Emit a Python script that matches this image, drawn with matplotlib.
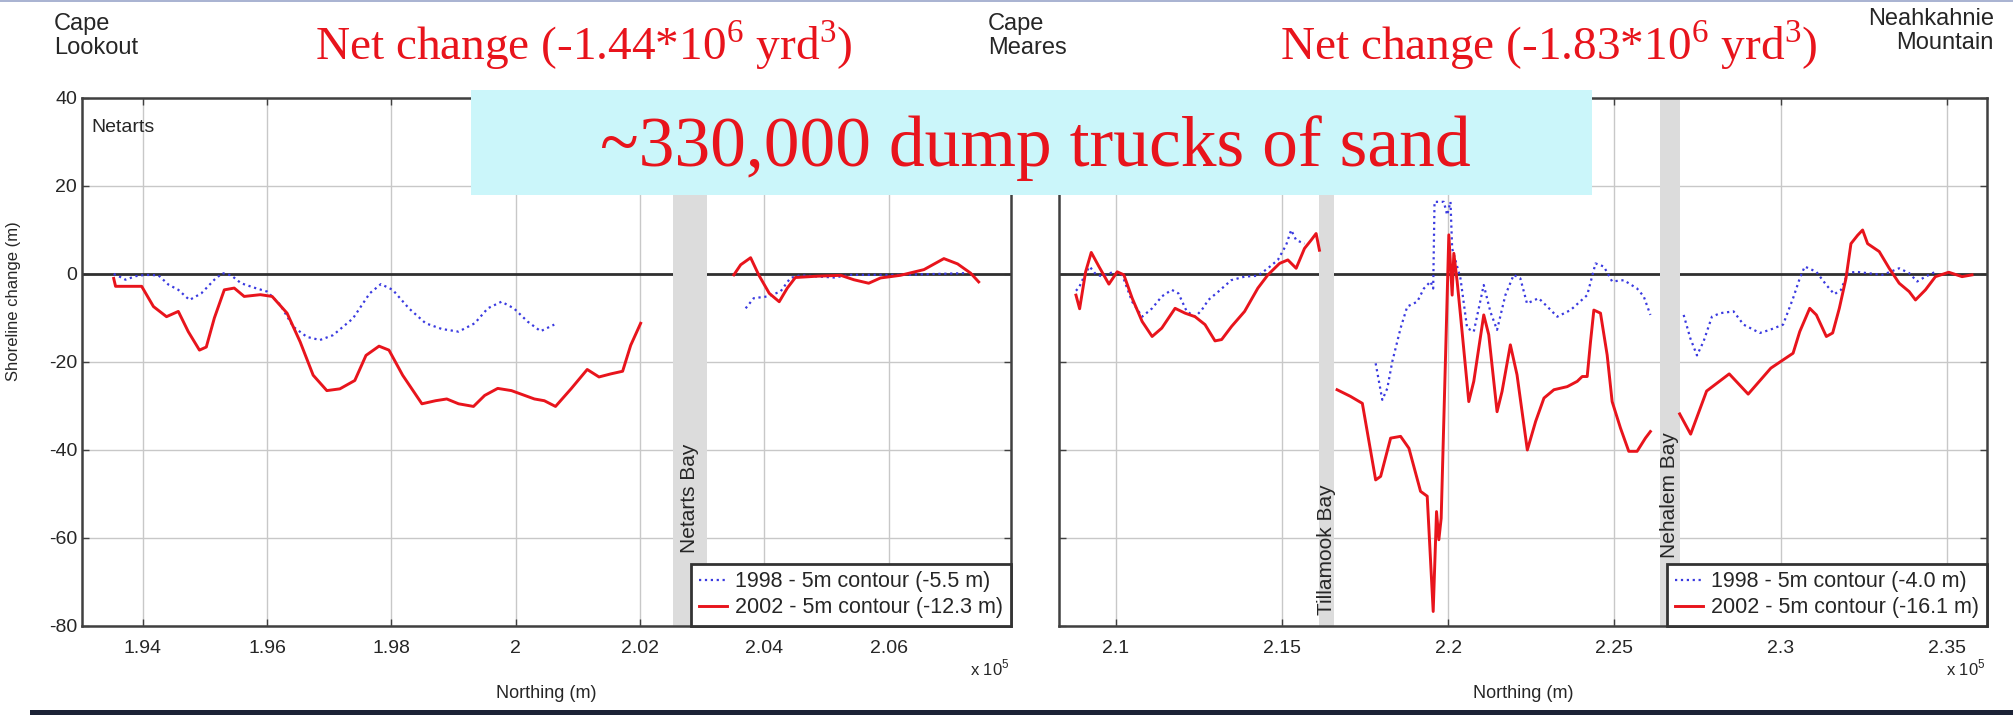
import matplotlib
matplotlib.use("Agg")
import matplotlib.pyplot as plt
from matplotlib.patches import Rectangle

plt.rcParams['font.family'] = ['Liberation Sans', 'DejaVu Sans']
plt.rcParams['mathtext.fontset'] = 'custom'
plt.rcParams['mathtext.rm'] = 'Liberation Serif'
plt.rcParams['mathtext.sf'] = 'Liberation Sans'
plt.rcParams['axes.unicode_minus'] = False

# Northing in units of 1e5 m, shoreline change in m
# --- Netarts cell (Cape Lookout -> Cape Meares) ---
n98_a = [1.9353, 1.9361, 1.9372, 1.9388, 1.9404, 1.9425, 1.9441, 1.9457, 1.9475,
         1.9494, 1.9515, 1.9528, 1.9542, 1.9558, 1.9579, 1.9600, 1.9621, 1.9642,
         1.9664, 1.9685, 1.9706, 1.9738, 1.9765, 1.9783, 1.9802, 1.9828, 1.9855,
         1.9881, 1.9908, 1.9934, 1.9955, 1.9977, 1.9997, 2.0019, 2.0040, 2.0062]
s98_a = [0.0, -0.5, -1.3, -0.5, -0.2, -0.3, -2.4, -3.6, -5.9, -4.4, -1.3, 0.2,
         -0.3, -2.1, -3.1, -4.0, -7.0, -12.0, -14.3, -15.0, -13.9, -10.1, -4.4,
         -2.3, -3.6, -7.8, -11.2, -12.5, -13.1, -11.2, -7.8, -6.3, -7.8, -10.8,
         -13.0, -11.5]
n02_a = [1.9353, 1.9356, 1.9398, 1.9417, 1.9438, 1.9457, 1.9473, 1.9491, 1.9502,
         1.9515, 1.9531, 1.9547, 1.9563, 1.9589, 1.9608, 1.9632, 1.9653, 1.9674,
         1.9696, 1.9717, 1.9741, 1.9759, 1.9780, 1.9796, 1.9818, 1.9849, 1.9871,
         1.9889, 1.9908, 1.9932, 1.9950, 1.9971, 1.9993, 2.0030, 2.0046, 2.0064,
         2.0089, 2.0115, 2.0134, 2.0153, 2.0172, 2.0185, 2.0201]
s02_a = [-1.0, -2.8, -2.8, -7.4, -9.7, -8.5, -13.1, -17.3, -16.6, -10.0, -3.6,
         -3.2, -5.1, -4.7, -5.1, -8.9, -15.4, -23.0, -26.5, -26.1, -24.2, -18.5,
         -16.4, -17.3, -23.0, -29.5, -28.8, -28.4, -29.5, -30.1, -27.6, -26.0,
         -26.5, -28.4, -28.8, -30.1, -26.1, -21.7, -23.4, -22.7, -22.1, -16.2,
         -11.2]
n98_b = [2.0370, 2.0383, 2.0405, 2.0426, 2.0442, 2.0458, 2.0512, 2.0539, 2.0619,
         2.0673, 2.0727]
s98_b = [-7.8, -5.5, -5.1, -4.0, -0.9, -0.3, -0.8, -0.2, -0.2, 0.0, 0.2]
n02_b = [2.0351, 2.0362, 2.0378, 2.0391, 2.0408, 2.0424, 2.0437, 2.0450, 2.0485,
         2.0523, 2.0544, 2.0568, 2.0587, 2.0619, 2.0657, 2.0689, 2.0711, 2.0732,
         2.0745]
s02_b = [-0.2, 2.1, 3.7, -0.2, -4.4, -6.3, -3.2, -0.8, -0.5, -0.3, -1.3, -2.1,
         -0.9, -0.3, 1.0, 3.5, 2.3, 0.2, -1.8]

# --- Rockaway / Nehalem cells (Cape Meares -> Neahkahnie Mountain) ---
n98_c = [2.0881, 2.0890, 2.0910, 2.0922, 2.0940, 2.0960, 2.0990, 2.1020, 2.1050,
         2.1080, 2.1110, 2.1139, 2.1169, 2.1189, 2.1214, 2.1240, 2.1259, 2.1279,
         2.1309, 2.1348, 2.1388, 2.1428, 2.1458, 2.1488, 2.1513, 2.1528, 2.1543,
         2.1568]
s98_c = [-3.8, -3.1, 0.2, 1.7, 0.0, -0.6, 0.4, -0.2, -6.3, -9.7, -7.8, -5.1,
         -3.6, -4.4, -8.5, -9.7, -8.2, -5.9, -4.0, -1.4, -0.6, -0.4, 1.3, 3.2,
         6.6, 10.0, 7.7, 6.9]
n02_c = [2.0881, 2.0892, 2.0910, 2.0927, 2.0950, 2.0980, 2.1005, 2.1025, 2.1050,
         2.1080, 2.1110, 2.1139, 2.1179, 2.1209, 2.1239, 2.1269, 2.1299, 2.1319,
         2.1349, 2.1388, 2.1428, 2.1458, 2.1493, 2.1518, 2.1543, 2.1568, 2.1588,
         2.1603, 2.1613]
s02_c = [-4.8, -7.9, 0.5, 4.9, 1.7, -2.3, 0.5, -0.2, -5.5, -10.8, -14.2, -12.3,
         -7.8, -8.9, -9.7, -11.5, -15.2, -14.9, -11.9, -8.5, -3.2, -0.2, 2.4, 3.2,
         1.3, 5.8, 7.7, 9.2, 5.4]
n98_d = [2.1782, 2.1802, 2.1817, 2.1832, 2.1857, 2.1877, 2.1907, 2.1927, 2.1947,
         2.1955, 2.1959, 2.1987, 2.1997, 2.2007, 2.2012, 2.2037, 2.2057, 2.2077,
         2.2107, 2.2127, 2.2147, 2.2172, 2.2197, 2.2217, 2.2237, 2.2272, 2.2298,
         2.2328, 2.2368, 2.2418, 2.2443, 2.2468, 2.2493, 2.2528, 2.2568, 2.2588,
         2.2608]
s98_d = [-20.3, -28.6, -26.0, -19.9, -12.3, -7.4, -6.3, -3.3, -1.7, -3.3, 16.4,
         16.4, 13.4, 16.4, 5.8, -1.0, -12.3, -13.1, -2.5, -8.6, -12.7, -4.8, -0.2,
         -1.0, -6.7, -5.5, -7.4, -9.7, -8.2, -4.8, 2.4, 1.7, -1.7, -1.4, -3.3,
         -5.1, -9.3]
n02_d = [2.1666, 2.1706, 2.1742, 2.1762, 2.1782, 2.1797, 2.1827, 2.1857, 2.1882,
         2.1917, 2.1937, 2.1955, 2.1965, 2.1972, 2.1979, 2.1989, 2.2002, 2.2012,
         2.2017, 2.2027, 2.2037, 2.2062, 2.2077, 2.2107, 2.2122, 2.2147, 2.2162,
         2.2187, 2.2207, 2.2238, 2.2263, 2.2288, 2.2318, 2.2358, 2.2388, 2.2403,
         2.2418, 2.2428, 2.2438, 2.2458, 2.2478, 2.2493, 2.2518, 2.2543, 2.2568,
         2.2593, 2.2608]
s02_d = [-26.3, -27.8, -29.4, -38.1, -46.8, -46.0, -37.3, -36.9, -39.6, -49.4,
         -50.5, -76.7, -54.0, -60.4, -55.5, -27.5, 8.9, -4.8, 4.7, -1.7, -9.3,
         -29.0, -24.4, -9.3, -13.8, -31.3, -26.7, -16.1, -22.9, -40.0, -33.5,
         -28.2, -26.3, -25.6, -24.4, -23.3, -23.3, -15.4, -8.2, -8.9, -18.4,
         -29.0, -35.0, -40.3, -40.3, -37.3, -35.8]
n98_e = [2.2708, 2.2728, 2.2748, 2.2768, 2.2793, 2.2818, 2.2858, 2.2888, 2.2937,
         2.2967, 2.3007, 2.3037, 2.3057, 2.3072, 2.3107, 2.3137, 2.3161, 2.3181,
         2.3201, 2.3226, 2.3306, 2.3356, 2.3386, 2.3410, 2.3435, 2.3465]
s98_e = [-9.3, -14.6, -18.5, -15.3, -9.7, -8.9, -8.5, -11.5, -13.4, -12.7, -11.5,
         -5.5, -1.0, 1.7, 0.5, -2.5, -4.6, -3.6, 0.2, 0.5, -0.2, 1.3, 0.2, -1.7,
         -0.6, 0.5]
n02_e = [2.2696, 2.2729, 2.2777, 2.2845, 2.2902, 2.2970, 2.3037, 2.3057, 2.3087,
         2.3107, 2.3137, 2.3156, 2.3176, 2.3196, 2.3211, 2.3231, 2.3246, 2.3261,
         2.3296, 2.3326, 2.3356, 2.3386, 2.3405, 2.3435, 2.3465, 2.3505, 2.3545,
         2.3575]
s02_e = [-31.8, -36.4, -26.6, -22.7, -27.3, -21.4, -18.0, -13.1, -7.8, -9.3,
         -14.2, -13.4, -7.8, -1.0, 6.9, 8.8, 10.0, 6.9, 5.1, 1.3, -2.1, -4.0,
         -5.9, -3.6, -0.6, 0.4, -0.6, -0.2]

# inlets (northing range of the grey bands) and their label base
bays = ['Netarts Bay', 'Tillamook Bay', 'Nehalem Bay']
bay_lo = [2.0253, 2.1611, 2.2636]
bay_hi = [2.0307, 2.1656, 2.2696]
bay_label_y = [-63.5, -77.5, -64.5]

legend_left = ['1998 - 5m contour (-5.5 m)', '2002 - 5m contour (-12.3 m)']
legend_right = ['1998 - 5m contour (-4.0 m)', '2002 - 5m contour (-16.1 m)']
title_left = 'Net change (-1.44*10$^{6}$ yrd$^{3}$)'
title_right = 'Net change (-1.83*10$^{6}$ yrd$^{3}$)'
callout = '~330,000 dump trucks of sand'

W, H = 2013, 715
RED = '#e8141c'
BLUE = '#3a3ae0'
TXT = '#262626'


def fx(x):
    return x / W


def fy(y):
    return 1 - y / H


fig = plt.figure(figsize=(W / 100, H / 100), dpi=100)
ax1 = fig.add_axes([fx(82), fy(626), 929 / W, 528 / H])
ax2 = fig.add_axes([fx(1059), fy(626), 928 / W, 528 / H])

for ax in (ax1, ax2):
    ax.set_ylim(-80, 40)
    ax.set_yticks([-80, -60, -40, -20, 0, 20, 40])
    ax.grid(True, color='#c8c8c8', lw=1.0)
    ax.set_axisbelow(True)
    ax.axhline(0, color='#303030', lw=2.0, zorder=1.5)
    for sp in ax.spines.values():
        sp.set_color('#404040')
        sp.set_linewidth(1.8)
    ax.tick_params(direction='in', length=5, width=1, colors='#404040',
                   labelcolor=TXT, labelsize=14, top=True, right=True)
    ax.tick_params(axis='x', pad=10)
    ax.set_xlabel('Northing (m)', fontsize=13, color=TXT, labelpad=20)

ax1.set_xlim(1.9302, 2.0797)
ax1.set_xticks([1.94, 1.96, 1.98, 2.00, 2.02, 2.04, 2.06])
ax1.set_xticklabels(['1.94', '1.96', '1.98', '2', '2.02', '2.04', '2.06'])
ax2.set_xlim(2.0830, 2.3620)
ax2.set_xticks([2.10, 2.15, 2.20, 2.25, 2.30, 2.35])
ax2.set_xticklabels(['2.1', '2.15', '2.2', '2.25', '2.3', '2.35'])
ax2.set_yticklabels([])
ax1.set_ylabel('Shoreline change (m)', fontsize=12, color=TXT)
ax1.yaxis.set_label_coords(-0.066, 0.615)

# grey bands for the inlets
for ax, i in ((ax1, 0), (ax2, 1), (ax2, 2)):
    ax.axvspan(bay_lo[i], bay_hi[i], color='#dcdcdc', lw=0, zorder=2)
    ax.text((bay_lo[i] + bay_hi[i]) / 2, bay_label_y[i], bays[i], rotation=90,
            ha='center', va='bottom', fontsize=15, color=TXT, zorder=3)

ax1.plot(n98_a, s98_a, ':', color=BLUE, lw=1.6, zorder=4, label=legend_left[0])
ax1.plot(n02_a, s02_a, '-', color=RED, lw=2.1, zorder=5, label=legend_left[1])
ax1.plot(n98_b, s98_b, ':', color=BLUE, lw=1.6, zorder=4)
ax1.plot(n02_b, s02_b, '-', color=RED, lw=2.1, zorder=5)

ax2.plot(n98_c, s98_c, ':', color=BLUE, lw=1.6, zorder=4, label=legend_right[0])
ax2.plot(n02_c, s02_c, '-', color=RED, lw=2.1, zorder=5, label=legend_right[1])
for n, s in ((n98_d, s98_d), (n98_e, s98_e)):
    ax2.plot(n, s, ':', color=BLUE, lw=1.6, zorder=4)
for n, s in ((n02_d, s02_d), (n02_e, s02_e)):
    ax2.plot(n, s, '-', color=RED, lw=2.1, zorder=5)

for ax in (ax1, ax2):
    leg = ax.legend(loc='lower right', borderaxespad=0, fancybox=False,
                    edgecolor='#333333', framealpha=1, fontsize=15.5,
                    handlelength=1.3, handletextpad=0.4, labelspacing=0.25,
                    borderpad=0.35)
    leg.get_frame().set_linewidth(2)
    leg.set_zorder(10)
    for t in leg.get_texts():
        t.set_color(TXT)

ax1.text(0.01, 0.96, 'Netarts', transform=ax1.transAxes, ha='left', va='top',
         fontsize=14, color=TXT)

# place names and headings above the panels
fig.text(fx(54), fy(36), 'Cape\nLookout', fontsize=17, color=TXT, va='center',
         linespacing=1.1)
fig.text(fx(988), fy(36), 'Cape\nMeares', fontsize=17, color=TXT, va='center',
         linespacing=1.1)
fig.text(fx(1994), fy(31), 'Neahkahnie\nMountain', fontsize=17, color=TXT,
         va='center', ha='right', multialignment='right', linespacing=1.1)
fig.text(fx(584), fy(45), title_left, fontsize=34, color=RED, ha='center',
         va='center', family='Liberation Serif')
fig.text(fx(1549), fy(45), title_right, fontsize=34, color=RED, ha='center',
         va='center', family='Liberation Serif')
fig.text(fx(1986), fy(668), 'x 10$^{\\mathsf{5}}$', fontsize=12, color=TXT, ha='right',
         va='center')
fig.text(fx(1010), fy(668), 'x 10$^{\\mathsf{5}}$', fontsize=12, color=TXT, ha='right',
         va='center')

# callout box across the top of both panels
fig.patches.append(Rectangle((fx(471), fy(195)), 1121 / W, 105 / H,
                             transform=fig.transFigure, facecolor='#cbf6fa',
                             edgecolor='none', zorder=20))
fig.text(fx(1035), fy(148), callout, fontsize=51.5, color=RED, ha='center',
         va='center', family='Liberation Serif', zorder=21)

# slide edges
fig.patches.append(Rectangle((0, fy(2)), 1, 2 / H, transform=fig.transFigure,
                             facecolor='#aab4d2', edgecolor='none', zorder=20))
fig.patches.append(Rectangle((fx(30), 0), 1, 5 / H, transform=fig.transFigure,
                             facecolor='#1c2236', edgecolor='none', zorder=20))

fig.savefig('out.png', dpi=100)
